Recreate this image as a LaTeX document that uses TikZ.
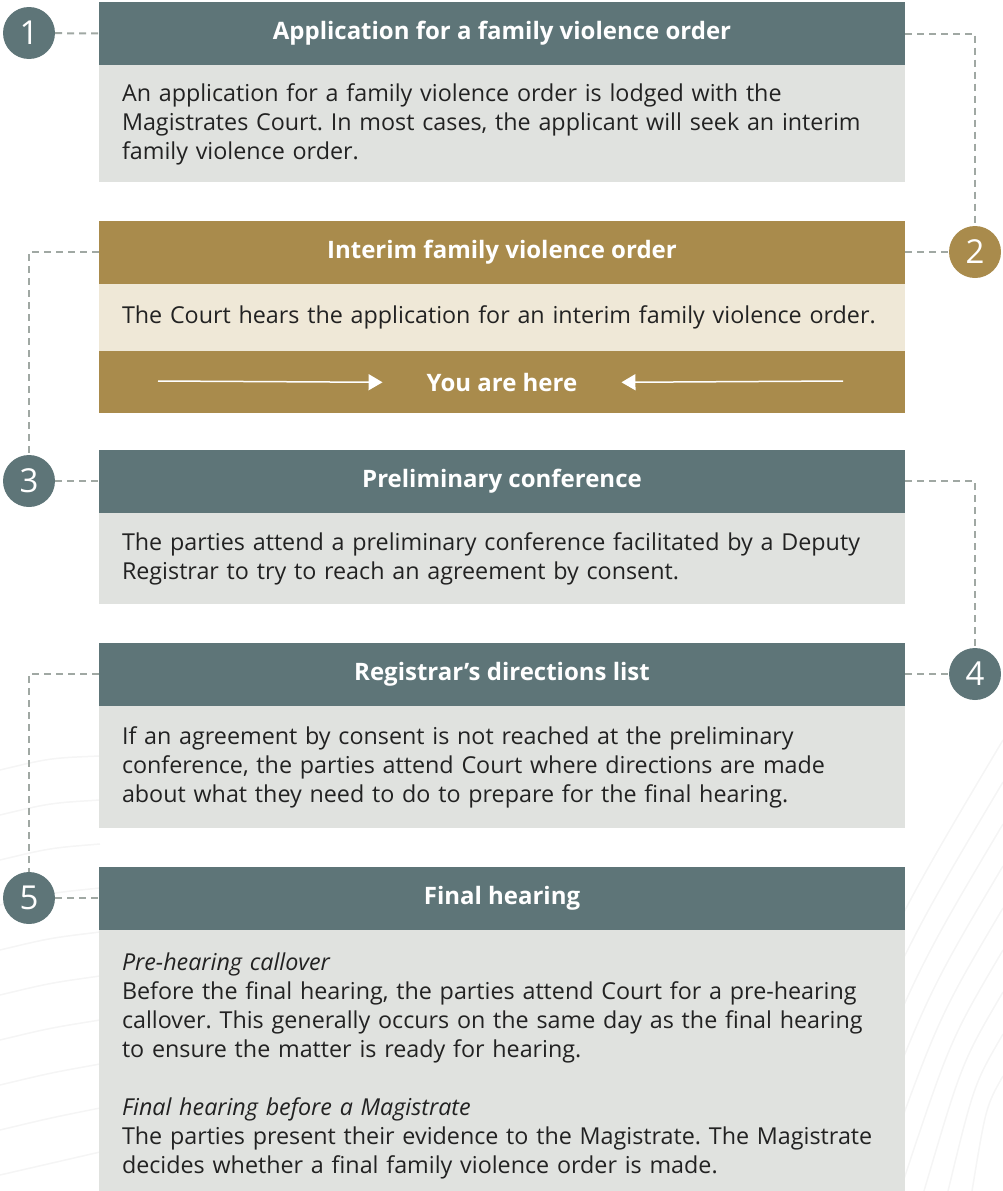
\documentclass[tikz,border=0pt]{standalone}
\usepackage{fontspec}
\setmainfont{Open Sans}
\frenchspacing
\usetikzlibrary{arrows.meta}
\usetikzlibrary{positioning}
\definecolor{mslate}{RGB}{94,117,120}
\definecolor{mgold}{RGB}{169,139,76}
\definecolor{mgrey}{RGB}{224,226,223}
\definecolor{mcream}{RGB}{239,232,215}
\definecolor{mdash}{RGB}{160,168,163}
\definecolor{mtext}{RGB}{34,34,34}
\tikzset{
  head/.style = {rectangle, fill=mslate, text=white, font=\fontsize{24}{28}\selectfont\bfseries,
    minimum width=806pt, minimum height=63pt, inner sep=0},
  body/.style = {rectangle, fill=mgrey, text=mtext, font=\fontsize{23.3}{29}\selectfont,
    text width=760pt, align=left, inner xsep=23pt, inner ysep=0},
  numc/.style = {circle, fill=mslate, text=white, font=\fontsize{33}{33}\selectfont,
    minimum size=52pt, inner sep=0},
  link/.style = {draw=mdash, line width=2pt, dash pattern=on 7pt off 5pt},
  here/.style = {draw=white, line width=1.5pt, -{Triangle[length=14pt, width=16pt]}},
  swirl/.style = {draw=black!4, line width=1.5pt},
}

\begin{document}
\begin{tikzpicture}[x=1pt, y=-1pt]
  \useasboundingbox (0, 0) rectangle (1003, 1191);

  % faint background lines
  \foreach \i in {0,...,8} {
    \draw [swirl] (780 + \i*24, 1191) .. controls (890 + \i*12, 930 + \i*22) .. (1003, 740 + \i*42);
  }
  \foreach \i in {0,...,9} {
    \draw [swirl] (0, 770 + \i*45) .. controls (50, 758 + \i*45) .. (100, 756 + \i*44);
  }

  % step 1
  \node [head] (h1) at (502, 33.5) {Application for a family violence order};
  \node [body, minimum height=117pt, below=0pt of h1] (b1)
    {An application for a family violence order is lodged with the\\
     Magistrates Court. In most cases, the applicant will seek an interim\\
     family violence order.};

  % step 2
  \node [head, fill=mgold] (h2) at (502, 252) {Interim family violence order};
  \node [body, fill=mcream, minimum height=67pt, below=0pt of h2] (b2)
    {The Court hears the application for an interim family violence order.};
  \node [head, fill=mgold, minimum height=62pt, below=0pt of b2] (yb) {};
  \node [font=\fontsize{24}{28}\selectfont\bfseries, text=white, inner xsep=44pt] (yt) at (yb) {You are here};
  \coordinate (yl) at (158, 381);
  \coordinate (yr) at (843, 381);
  \draw [here] (yl) -- (yt.west);
  \draw [here] (yr) -- (yt.east);

  % step 3
  \node [head] (h3) at (502, 481) {Preliminary conference};
  \node [body, minimum height=91pt, below=0pt of h3] (b3)
    {The parties attend a preliminary conference facilitated by a Deputy\\
     Registrar to try to reach an agreement by consent.};

  % step 4
  \node [head] (h4) at (502, 674) {Registrar’s directions list};
  \node [body, minimum height=122pt, below=0pt of h4] (b4)
    {If an agreement by consent is not reached at the preliminary\\
     conference, the parties attend Court where directions are made\\
     about what they need to do to prepare for the final hearing.};

  % step 5
  \node [head] (h5) at (502, 898) {Final hearing};
  \node [body, minimum height=272pt, below=0pt of h5] (b5)
    {\textit{Pre-hearing callover}\\
     Before the final hearing, the parties attend Court for a pre-hearing\\
     callover. This generally occurs on the same day as the final hearing\\
     to ensure the matter is ready for hearing.\\[29pt]
     \textit{Final hearing before a Magistrate}\\
     The parties present their evidence to the Magistrate. The Magistrate\\
     decides whether a final family violence order is made.};

  % numbers
  \node [numc] (c1) at (29, 33) {1};
  \node [numc, fill=mgold] (c2) at (975, 252) {2};
  \node [numc] (c3) at (29, 481) {3};
  \node [numc] (c4) at (975, 674) {4};
  \node [numc] (c5) at (29, 898) {5};

  \draw [link] (c1) -- (h1.west);
  \draw [link] (h1.east) -| (c2);
  \draw [link] (h2.east) -- (c2);
  \draw [link] (h2.west) -| (c3);
  \draw [link] (c3) -- (h3.west);
  \draw [link] (h3.east) -| (c4);
  \draw [link] (h4.east) -- (c4);
  \draw [link] (h4.west) -| (c5);
  \draw [link] (c5) -- (h5.west);
\end{tikzpicture}
\end{document}
